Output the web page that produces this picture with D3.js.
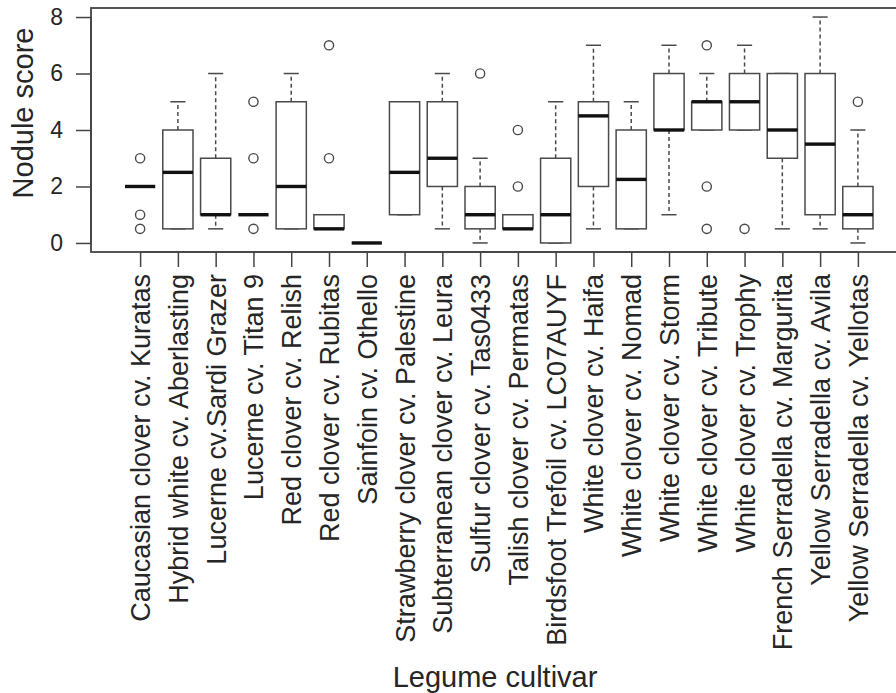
<!DOCTYPE html>
<html>
<head>
<meta charset="utf-8">
<script src="https://cdn.jsdelivr.net/npm/d3@7"></script>
<style>
  html, body { margin: 0; padding: 0; background: #fff; }
  svg { display: block; }
  text { font-family: "Liberation Sans", Arial, Helvetica, sans-serif; fill: #262626; }
</style>
</head>
<body>
<svg id="chart" width="896" height="693"></svg>
<script>
// Nodule scores per legume cultivar, summarised as box-plot statistics
const categories = [
  "Caucasian clover cv. Kuratas",
  "Hybrid white cv. Aberlasting",
  "Lucerne cv.Sardi Grazer",
  "Lucerne cv. Titan 9",
  "Red clover cv. Relish",
  "Red clover cv. Rubitas",
  "Sainfoin cv. Othello",
  "Strawberry clover cv. Palestine",
  "Subterranean clover cv. Leura",
  "Sulfur clover cv. Tas0433",
  "Talish clover cv. Permatas",
  "Birdsfoot Trefoil cv. LC07AUYF",
  "White clover cv. Haifa",
  "White clover cv. Nomad",
  "White clover cv. Storm",
  "White clover cv. Tribute",
  "White clover cv. Trophy",
  "French Serradella cv. Margurita",
  "Yellow Serradella cv. Avila",
  "Yellow Serradella cv. Yellotas"
];
const lowerWhisker = [2, 0.5, 0.5, 1, 0.5, 0.5, 0, 1, 0.5, 0, 0.5, 0, 0.5, 0.5, 1, 4, 4, 0.5, 0.5, 0];
const quartile1    = [2, 0.5, 1,   1, 0.5, 0.5, 0, 1, 2,   0.5, 0.5, 0, 2, 0.5, 4, 4, 4, 3, 1, 0.5];
const medians      = [2, 2.5, 1,   1, 2,   0.5, 0, 2.5, 3, 1, 0.5, 1, 4.5, 2.25, 4, 5, 5, 4, 3.5, 1];
const quartile3    = [2, 4,   3,   1, 5,   1,   0, 5, 5,   2, 1, 3, 5, 4, 6, 5, 6, 6, 6, 2];
const upperWhisker = [2, 5,   6,   1, 6,   1,   0, 5, 6,   3, 1, 5, 7, 5, 7, 6, 7, 6, 8, 4];
const outliers = [
  [3, 1, 0.5], [], [], [5, 3, 0.5], [], [7, 3], [], [], [], [6],
  [4, 2], [], [], [], [], [7, 2, 0.5], [0.5], [], [], [5]
];
const yTicks = [0, 2, 4, 6, 8];
const yTitle = "Nodule score";
const xTitle = "Legume cultivar";

const n = categories.length;
const svg = d3.select("#chart");

// plotting region, with the usual 4% padding around the data range
const x = d3.scaleLinear().domain([0.5 - 0.04 * n, n + 0.5 + 0.04 * n]).range([91, 907]);
const y = d3.scaleLinear().domain([-0.32, 8.32]).range([252, 8]);

const boxHalf = 0.4;   // half box width in category units
const stapleHalf = 0.2;
const ink = "#4a4a4a";

const g = svg.append("g");

// frame
g.append("rect")
  .attr("x", x.range()[0]).attr("y", y.range()[1])
  .attr("width", x.range()[1] - x.range()[0])
  .attr("height", y.range()[0] - y.range()[1])
  .attr("fill", "none").attr("stroke", "#444").attr("stroke-width", 1.8);

const groups = g.selectAll("g.box")
  .data(categories.map((c, i) => ({
    name: c, pos: i + 1,
    lw: lowerWhisker[i], q1: quartile1[i], med: medians[i],
    q3: quartile3[i], uw: upperWhisker[i], out: outliers[i]
  })))
  .join("g").attr("class", "box");

// dashed whiskers
groups.append("line")
  .attr("x1", d => x(d.pos)).attr("x2", d => x(d.pos))
  .attr("y1", d => y(d.q3)).attr("y2", d => y(d.uw))
  .attr("stroke", ink).attr("stroke-width", 1.5).attr("stroke-dasharray", "4,3");
groups.append("line")
  .attr("x1", d => x(d.pos)).attr("x2", d => x(d.pos))
  .attr("y1", d => y(d.q1)).attr("y2", d => y(d.lw))
  .attr("stroke", ink).attr("stroke-width", 1.5).attr("stroke-dasharray", "4,3");

// staples
groups.append("line")
  .attr("x1", d => x(d.pos - stapleHalf)).attr("x2", d => x(d.pos + stapleHalf))
  .attr("y1", d => y(d.uw)).attr("y2", d => y(d.uw))
  .attr("stroke", ink).attr("stroke-width", 1.5);
groups.append("line")
  .attr("x1", d => x(d.pos - stapleHalf)).attr("x2", d => x(d.pos + stapleHalf))
  .attr("y1", d => y(d.lw)).attr("y2", d => y(d.lw))
  .attr("stroke", ink).attr("stroke-width", 1.5);

// boxes
groups.append("rect")
  .attr("x", d => x(d.pos - boxHalf))
  .attr("width", d => x(d.pos + boxHalf) - x(d.pos - boxHalf))
  .attr("y", d => y(d.q3))
  .attr("height", d => y(d.q1) - y(d.q3))
  .attr("fill", "#fff").attr("stroke", ink).attr("stroke-width", 1.5);

// medians
groups.append("line")
  .attr("x1", d => x(d.pos - boxHalf)).attr("x2", d => x(d.pos + boxHalf))
  .attr("y1", d => y(d.med)).attr("y2", d => y(d.med))
  .attr("stroke", "#111").attr("stroke-width", 3.4);

// outliers
groups.selectAll("circle")
  .data(d => d.out.map(v => ({ pos: d.pos, v })))
  .join("circle")
  .attr("cx", d => x(d.pos)).attr("cy", d => y(d.v))
  .attr("r", 4.6).attr("fill", "none").attr("stroke", ink).attr("stroke-width", 1.4);

// y axis
const yAxis = g.append("g")
  .attr("transform", `translate(${x.range()[0]},0)`)
  .call(d3.axisLeft(y).tickValues(yTicks).tickSize(15).tickPadding(13).tickFormat(d3.format("d")));
yAxis.select(".domain").attr("d", `M-0,${y(0)}V${y(8)}`).attr("stroke", "#444").attr("stroke-width", 1.5);
yAxis.selectAll(".tick line").attr("stroke", "#444").attr("stroke-width", 1.5);
yAxis.selectAll(".tick text").attr("font-size", 23).attr("fill", "#262626")
  .attr("font-family", "Liberation Sans, Arial, sans-serif");

// x axis with categories rotated
const xAxis = g.append("g")
  .attr("transform", `translate(0,${y.range()[0]})`)
  .call(d3.axisBottom(x).tickValues(d3.range(1, n + 1)).tickSize(15).tickFormat(() => ""));
xAxis.select(".domain").attr("d", `M${x(1)},0H${x(n)}`).attr("stroke", "#444").attr("stroke-width", 1.5);
xAxis.selectAll(".tick line").attr("stroke", "#444").attr("stroke-width", 1.5);

g.append("g").selectAll("text")
  .data(categories)
  .join("text")
  .attr("transform", (d, i) => `translate(${x(i + 1) + 10},${y.range()[0] + 22}) rotate(-90)`)
  .attr("text-anchor", "end")
  .attr("font-size", 27)
  .text(d => d);

// axis titles
svg.append("text")
  .attr("transform", `translate(33,113) rotate(-90)`)
  .attr("text-anchor", "middle")
  .attr("font-size", 29)
  .text(yTitle);

svg.append("text")
  .attr("x", 495)
  .attr("y", 687)
  .attr("text-anchor", "middle")
  .attr("font-size", 29)
  .text(xTitle);
</script>
</body>
</html>
